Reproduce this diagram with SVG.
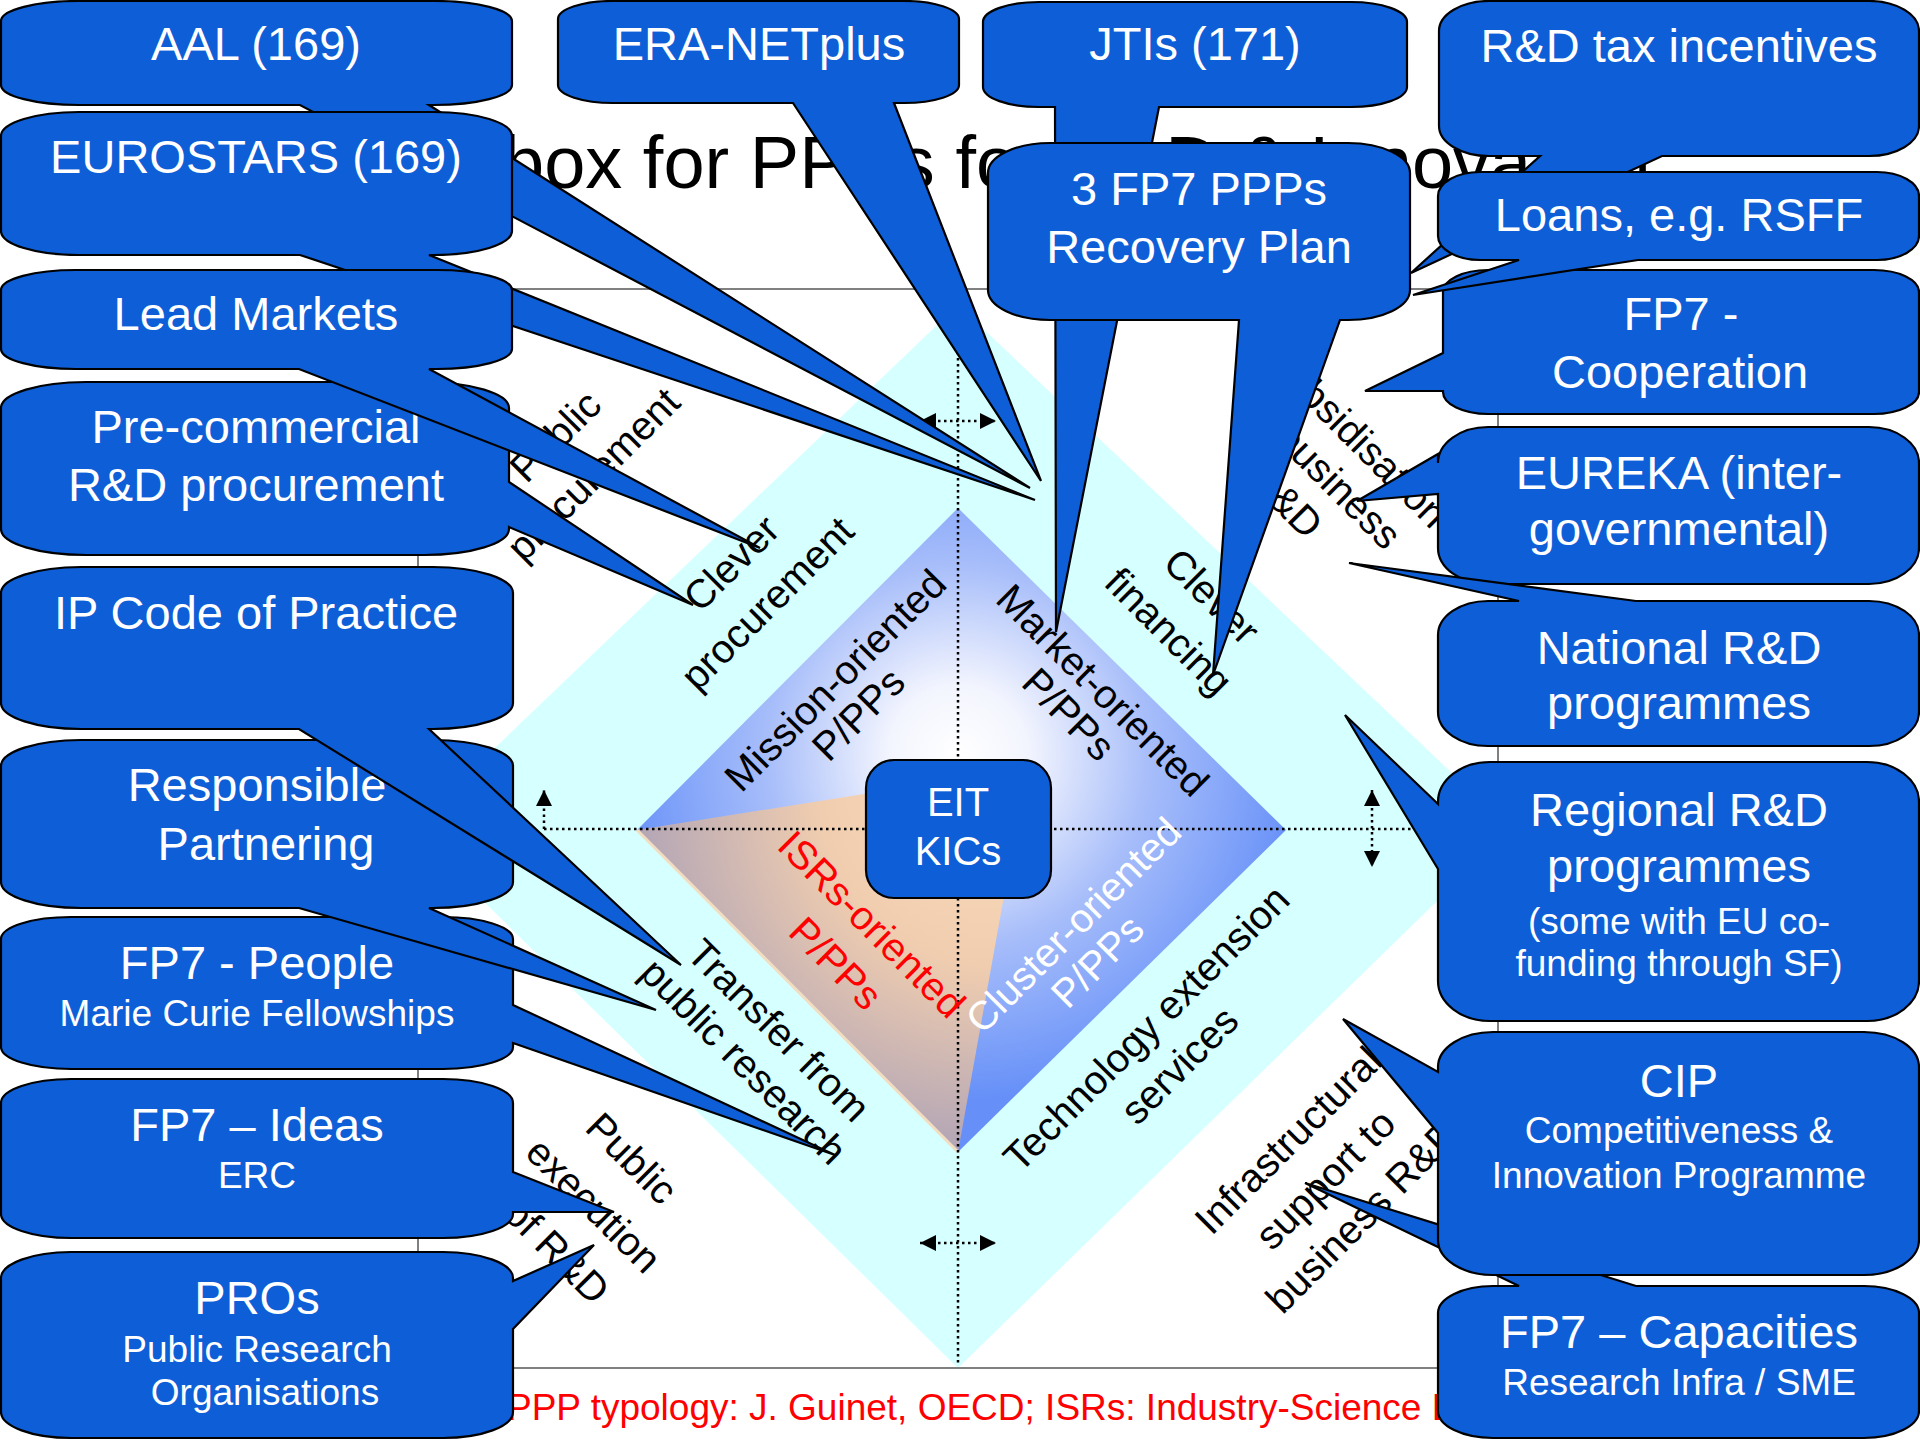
<svg xmlns="http://www.w3.org/2000/svg" width="1920" height="1440" viewBox="0 0 1920 1440">
<defs>
<style>
.box{fill:#0D5ED7;stroke:#000;stroke-width:2.2;stroke-linejoin:miter}
.bt{font-family:"Liberation Sans",Arial,sans-serif;fill:#fff;text-anchor:middle}
.big{font-size:47px}
.small{font-size:37px}
.lbl{font-family:"Liberation Sans",Arial,sans-serif;font-size:40px;text-anchor:middle;fill:#000}
.dot{stroke:#000;stroke-width:2.5;stroke-dasharray:2.5 3.5;fill:none}
</style>
<radialGradient id="gBlue" gradientUnits="userSpaceOnUse" cx="958" cy="755" r="345">
<stop offset="0" stop-color="#FFFFFF"/>
<stop offset="0.2" stop-color="#F3F5FE"/>
<stop offset="0.55" stop-color="#A8BEFA"/>
<stop offset="1" stop-color="#6690F8"/>
</radialGradient>
<radialGradient id="gPeach" gradientUnits="userSpaceOnUse" cx="995" cy="790" r="390">
<stop offset="0" stop-color="#FBDDBB"/>
<stop offset="0.45" stop-color="#F0CDAF"/>
<stop offset="1" stop-color="#A99FB7"/>
</radialGradient>
<marker id="ah" viewBox="0 0 10 10" refX="10" refY="5" markerUnits="userSpaceOnUse" markerWidth="17" markerHeight="16" orient="auto-start-reverse">
<path d="M0,0 L10,5 L0,10 Z" fill="#000"/>
</marker>
</defs>
<rect width="1920" height="1440" fill="#fff"/>

<g id="background">
<text x="503" y="188" font-family="Liberation Sans, Arial, sans-serif" font-size="74" fill="#000">box for PPPs for R&amp;D &amp; Innovation</text>
<polygon points="958,305 1511,829 958,1368 410,829" fill="#D6FFFF"/>
<rect x="418" y="289" width="1080" height="1079" fill="none" stroke="#808080" stroke-width="2"/>
<polygon points="958,508 1286,830 958,1152 637,830" fill="url(#gBlue)"/>
<polygon points="637,830 1027,768 958,1152" fill="url(#gPeach)"/>
<line x1="637" y1="830" x2="958" y2="1152" stroke="#F3DDC0" stroke-width="3"/>
<text x="507" y="1420" font-family="Liberation Sans, Arial, sans-serif" font-size="37" fill="#FF0000">PPP typology: J. Guinet, OECD; ISRs: Industry-Science Linkages</text>
</g>

<g id="connectors">
<line class="dot" x1="958" y1="292" x2="958" y2="1366"/>
<line class="dot" x1="544" y1="829" x2="1498" y2="829"/>
<line class="dot" x1="920" y1="421" x2="996" y2="421" marker-start="url(#ah)" marker-end="url(#ah)"/>
<line class="dot" x1="920" y1="1243" x2="996" y2="1243" marker-start="url(#ah)" marker-end="url(#ah)"/>
<line class="dot" x1="544" y1="829" x2="544" y2="790" marker-end="url(#ah)"/>
<line class="dot" x1="1372" y1="790" x2="1372" y2="867" marker-start="url(#ah)" marker-end="url(#ah)"/>
</g>

<g id="labels">
<text class="lbl" transform="translate(565,446) rotate(-45)">Public</text>
<text class="lbl" transform="translate(603,484) rotate(-45)">procurement</text>
<text class="lbl" transform="translate(741,573) rotate(-45)">Clever</text>
<text class="lbl" transform="translate(777,613) rotate(-45)">procurement</text>
<text class="lbl" transform="translate(845,690) rotate(-45)">Mission-oriented</text>
<text class="lbl" transform="translate(868,724) rotate(-45)">P/PPs</text>
<text class="lbl" transform="translate(1093,700) rotate(45)">Market-oriented</text>
<text class="lbl" transform="translate(1059,724) rotate(45)">P/PPs</text>
<text class="lbl" transform="translate(1202,606) rotate(45)">Clever</text>
<text class="lbl" transform="translate(1159,641) rotate(45)">financing</text>
<text class="lbl" transform="translate(1347,446) rotate(45)">Subsidisation</text>
<text class="lbl" transform="translate(1313,480) rotate(45)">of business</text>
<text class="lbl" transform="translate(1276,511) rotate(45)">R&amp;D</text>
<text class="lbl" transform="translate(769,1040) rotate(45)">Transfer from</text>
<text class="lbl" transform="translate(734,1071) rotate(45)">public research</text>
<text class="lbl" style="fill:#FF0000" transform="translate(862,934) rotate(45)">ISRs-oriented</text>
<text class="lbl" style="fill:#FF0000" transform="translate(826,973) rotate(45)">P/PPs</text>
<text class="lbl" style="fill:#FFFFFF" transform="translate(1083,935) rotate(-45)">Cluster-oriented</text>
<text class="lbl" style="fill:#FFFFFF" transform="translate(1107,971) rotate(-45)">P/PPs</text>
<text class="lbl" transform="translate(1156,1038) rotate(-45)">Technology extension</text>
<text class="lbl" transform="translate(1189,1075) rotate(-45)">services</text>
<text class="lbl" transform="translate(622,1168) rotate(45)">Public</text>
<text class="lbl" transform="translate(584,1215) rotate(45)">execution</text>
<text class="lbl" transform="translate(547,1261) rotate(45)">of R&amp;D</text>
<text class="lbl" transform="translate(1298,1150) rotate(-45)">Infrastructural</text>
<text class="lbl" transform="translate(1335,1189) rotate(-45)">support to</text>
<text class="lbl" transform="translate(1372,1226) rotate(-45)">business R&amp;D</text>
</g>

<g id="eit-kics">
<rect class="box" x="866" y="760" width="185" height="138" rx="28" ry="28"/>
<text class="bt" font-size="40" x="958" y="816">EIT</text>
<text class="bt" font-size="40" x="958" y="865">KICs</text>
</g>

<g id="aal">
<path class="box" d="M79,1 H434 A78,20 0 0 1 512,21 V85 A78,20 0 0 1 434,105 H429 L1030,488 L300,105 H79 A78,20 0 0 1 1,85 V21 A78,20 0 0 1 79,1 Z"/>
<text class="bt big" x="256" y="60">AAL (169)</text>
</g>
<g id="eurostars">
<path class="box" d="M79,112 H434 A78,24 0 0 1 512,136 V231 A78,24 0 0 1 434,255 H429 L1035,500 L300,255 H79 A78,24 0 0 1 1,231 V136 A78,24 0 0 1 79,112 Z"/>
<text class="bt big" x="256" y="173">EUROSTARS (169)</text>
</g>
<g id="pre-commercial">
<path class="box" d="M86,382 H424 A85,26 0 0 1 509,408 V482 L693,605 L509,527 V529 A85,26 0 0 1 424,555 H86 A85,26 0 0 1 1,529 V408 A85,26 0 0 1 86,382 Z"/>
<text class="bt big" x="256" y="443">Pre-commercial</text>
<text class="bt big" x="256" y="501">R&amp;D procurement</text>
</g>
<g id="lead-markets">
<path class="box" d="M76,270 H437 A75,20 0 0 1 512,290 V349 A75,20 0 0 1 437,369 H429 L760,548 L299,369 H76 A75,20 0 0 1 1,349 V290 A75,20 0 0 1 76,270 Z"/>
<text class="bt big" x="256" y="330">Lead Markets</text>
</g>
<g id="fp7-people">
<path class="box" d="M71,917 H443 A70,22 0 0 1 513,939 V1005 L835,1155 L513,1043 V1047 A70,22 0 0 1 443,1069 H71 A70,22 0 0 1 1,1047 V939 A70,22 0 0 1 71,917 Z"/>
<text class="bt big" x="257" y="979">FP7 - People</text>
<text class="bt small" x="257" y="1026">Marie Curie Fellowships</text>
</g>
<g id="responsible-partnering">
<path class="box" d="M81,740 H433 A80,26 0 0 1 513,766 V882 A80,26 0 0 1 433,908 H429 L656,1010 L299,908 H81 A80,26 0 0 1 1,882 V766 A80,26 0 0 1 81,740 Z"/>
<text class="bt big" x="257" y="801">Responsible</text>
<text class="bt big" x="266" y="860">Partnering</text>
</g>
<g id="ip-code">
<path class="box" d="M81,567 H433 A80,26 0 0 1 513,593 V703 A80,26 0 0 1 433,729 H429 L681,965 L299,729 H81 A80,26 0 0 1 1,703 V593 A80,26 0 0 1 81,567 Z"/>
<text class="bt big" x="256" y="629">IP Code of Practice</text>
</g>
<g id="fp7-ideas">
<path class="box" d="M71,1079 H443 A70,24 0 0 1 513,1103 V1172 L614,1212 L513,1212 V1214 A70,24 0 0 1 443,1238 H71 A70,24 0 0 1 1,1214 V1103 A70,24 0 0 1 71,1079 Z"/>
<text class="bt big" x="257" y="1141">FP7 – Ideas</text>
<text class="bt small" x="257" y="1188">ERC</text>
</g>
<g id="pros">
<path class="box" d="M71,1252 H443 A70,26 0 0 1 513,1278 V1281 L594,1245 L513,1329 V1412 A70,26 0 0 1 443,1438 H71 A70,26 0 0 1 1,1412 V1278 A70,26 0 0 1 71,1252 Z"/>
<text class="bt big" x="257" y="1314">PROs</text>
<text class="bt small" x="257" y="1362">Public Research</text>
<text class="bt small" x="265" y="1405">Organisations</text>
</g>

<g id="era-netplus">
<path class="box" d="M613,1 H904 A55,18 0 0 1 959,19 V85 A55,18 0 0 1 904,103 H894 L1041,481 L793,103 H613 A55,18 0 0 1 558,85 V19 A55,18 0 0 1 613,1 Z"/>
<text class="bt big" x="759" y="60">ERA-NETplus</text>
</g>
<g id="jtis">
<path class="box" d="M1039,2 H1351 A56,20 0 0 1 1407,22 V87 A56,20 0 0 1 1351,107 H1159 L1056,632 L1055,107 H1039 A56,20 0 0 1 983,87 V22 A56,20 0 0 1 1039,2 Z"/>
<text class="bt big" x="1195" y="60">JTIs (171)</text>
</g>
<g id="fp7-ppps">
<path class="box" d="M1050,143 H1348 A62,30 0 0 1 1410,173 V290 A62,30 0 0 1 1348,320 H1340 L1213,675 L1239,320 H1050 A62,30 0 0 1 988,290 V173 A62,30 0 0 1 1050,143 Z"/>
<text class="bt big" x="1199" y="205">3 FP7 PPPs</text>
<text class="bt big" x="1199" y="263">Recovery Plan</text>
</g>

<g id="rd-tax">
<path class="box" d="M1489,1 H1869 A50,30 0 0 1 1919,31 V126 A50,30 0 0 1 1869,156 H1662 L1411,273 L1540,156 H1489 A50,30 0 0 1 1439,126 V31 A50,30 0 0 1 1489,1 Z"/>
<text class="bt big" x="1679" y="62">R&amp;D tax incentives</text>
</g>
<g id="fp7-cooperation">
<path class="box" d="M1488,270 H1874 A45,22 0 0 1 1919,292 V392 A45,22 0 0 1 1874,414 H1488 A45,22 0 0 1 1443,392 V391 L1365,391 L1443,353 V292 A45,22 0 0 1 1488,270 Z"/>
<text class="bt big" x="1681" y="330">FP7 -</text>
<text class="bt big" x="1680" y="388">Cooperation</text>
</g>
<g id="loans">
<path class="box" d="M1480,172 H1877 A42,24 0 0 1 1919,196 V236 A42,24 0 0 1 1877,260 H1638 L1413,295 L1519,260 H1480 A42,24 0 0 1 1438,236 V196 A42,24 0 0 1 1480,172 Z"/>
<text class="bt big" x="1679" y="231">Loans, e.g. RSFF</text>
</g>
<g id="eureka">
<path class="box" d="M1488,427 H1869 A50,36 0 0 1 1919,463 V548 A50,36 0 0 1 1869,584 H1488 A50,36 0 0 1 1438,548 V494 L1357,501 L1438,454 V463 A50,36 0 0 1 1488,427 Z"/>
<text class="bt big" x="1679" y="489">EUREKA (inter-</text>
<text class="bt big" x="1679" y="545">governmental)</text>
</g>
<g id="national">
<path class="box" d="M1488,601 H1519 L1349,563 L1636,601 H1869 A50,34 0 0 1 1919,635 V712 A50,34 0 0 1 1869,746 H1488 A50,34 0 0 1 1438,712 V635 A50,34 0 0 1 1488,601 Z"/>
<text class="bt big" x="1679" y="664">National R&amp;D</text>
<text class="bt big" x="1679" y="719">programmes</text>
</g>
<g id="regional">
<path class="box" d="M1490,762 H1867 A52,40 0 0 1 1919,802 V981 A52,40 0 0 1 1867,1021 H1490 A52,40 0 0 1 1438,981 V869 L1345,715 L1438,804 V802 A52,40 0 0 1 1490,762 Z"/>
<text class="bt big" x="1679" y="826">Regional R&amp;D</text>
<text class="bt big" x="1679" y="882">programmes</text>
<text class="bt small" x="1679" y="934">(some with EU co-</text>
<text class="bt small" x="1679" y="976">funding through SF)</text>
</g>
<g id="fp7-capacities">
<path class="box" d="M1493,1286 H1519 L1305,1183 L1636,1286 H1864 A55,27 0 0 1 1919,1313 V1411 A55,27 0 0 1 1864,1438 H1493 A55,27 0 0 1 1438,1411 V1313 A55,27 0 0 1 1493,1286 Z"/>
<text class="bt big" x="1679" y="1348">FP7 – Capacities</text>
<text class="bt small" x="1679" y="1395">Research Infra / SME</text>
</g>
<g id="cip">
<path class="box" d="M1493,1032 H1864 A55,35 0 0 1 1919,1067 V1240 A55,35 0 0 1 1864,1275 H1493 A55,35 0 0 1 1438,1240 V1133 L1343,1019 L1438,1072 V1067 A55,35 0 0 1 1493,1032 Z"/>
<text class="bt big" x="1679" y="1097">CIP</text>
<text class="bt small" x="1679" y="1143">Competitiveness &amp;</text>
<text class="bt small" x="1679" y="1188">Innovation Programme</text>
</g>
</svg>
